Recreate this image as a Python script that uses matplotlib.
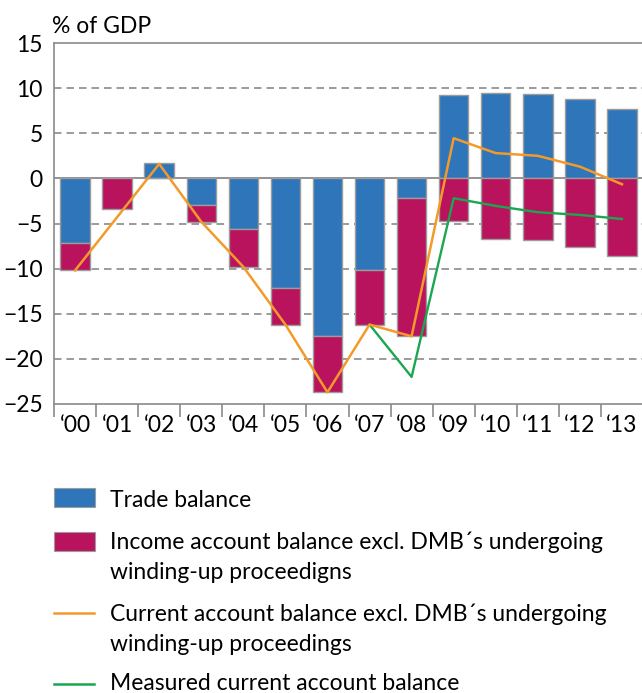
import matplotlib
matplotlib.use("Agg")
import matplotlib.pyplot as plt
import numpy as np
from matplotlib.patches import Rectangle
from matplotlib.lines import Line2D

plt.rcParams["font.family"] = ["Lato", "DejaVu Sans"]

# ---- data (% of GDP) ------------------------------------------------------
years = ["\u201800", "\u201801", "\u201802", "\u201803", "\u201804", "\u201805", "\u201806",
         "\u201807", "\u201808", "\u201809", "\u201810", "\u201811", "\u201812", "\u201813"]
trade = [-7.2, 0.0, 1.7, -3.0, -5.6, -12.2, -17.5, -10.2, -2.2, 9.2, 9.45, 9.3, 8.85, 7.7]
income = [-3.0, -3.4, 0.0, -1.8, -4.2, -4.0, -6.2, -6.05, -15.3, -4.7, -6.7, -6.8, -7.6, -8.6]
current_excl = [-10.2, -4.3, 1.6, -4.8, -9.8, -16.2, -23.7, -16.2, -17.5, 4.45, 2.8, 2.5, 1.3, -0.65]
measured = [np.nan] * 7 + [-16.2, -22.0, -2.2, -3.05, -3.75, -4.05, -4.5]

BLUE = "#2e75b9"
MAGENTA = "#b9135d"
ORANGE = "#f39a2a"
GREEN = "#1ba650"
GREY = "#8a8a8a"
EDGE = "#9c9c9c"
FS = 16.5

W, H = 642, 693
fig = plt.figure(figsize=(W / 100, H / 100), dpi=100)
ax = fig.add_axes([54 / W, 1 - 404 / H, 589 / W, 361 / H])

x = np.arange(len(years))
trade = np.array(trade)
income = np.array(income)
bw = 0.70

ax.axhline(0, color=GREY, lw=1.3, zorder=1)
ax.bar(x, trade, bw, color=BLUE, edgecolor=EDGE, lw=1.0, zorder=2)
ax.bar(x, income, bw, bottom=np.minimum(trade, 0), color=MAGENTA,
       edgecolor=EDGE, lw=1.0, zorder=2)
ax.plot(x, measured, color=GREEN, lw=1.7, zorder=3)
ax.plot(x, current_excl, color=ORANGE, lw=1.8, zorder=4)

ax.set_xlim(-0.5, len(years) - 0.5)
ax.set_ylim(-25, 15)
ax.set_yticks(np.arange(-25, 16, 5))
for v in (10, 5, -5, -10, -15, -20):
    ax.axhline(v, color=GREY, lw=1.2, ls=(0, (4.5, 3)), zorder=0)

ax.set_xticks(x)
ax.set_xticklabels(years)
ax.set_xticks(np.arange(-0.5, len(years), 1), minor=True)
ax.tick_params(axis="x", which="major", length=0, pad=8, labelsize=FS)
ax.tick_params(axis="x", which="minor", length=9, width=1.2, color=GREY)
ax.tick_params(axis="y", length=0, pad=8, labelsize=FS)

for side in ("left", "bottom", "top"):
    ax.spines[side].set_color(GREY)
    ax.spines[side].set_linewidth(1.2)
ax.spines["right"].set_visible(False)

fig.text(52 / W, 1 - 33 / H, "% of GDP", fontsize=FS, va="baseline", ha="left")


# ---- legend, placed in figure pixels ---------------------------------------
def fy(py):
    return 1 - py / H


def patch(top, color):
    fig.add_artist(Rectangle((54 / W, fy(top + 19)), 41 / W, 19 / H,
                             transform=fig.transFigure, facecolor=color,
                             edgecolor=EDGE, lw=0.8))


def handle(py, color):
    fig.add_artist(Line2D([54 / W, 94 / W], [fy(py), fy(py)],
                          transform=fig.transFigure, color=color, lw=1.8))


def label(py, s):
    fig.text(110 / W, fy(py), s, fontsize=FS, va="baseline", ha="left")


patch(488, BLUE)
label(507, "Trade balance")
patch(532, MAGENTA)
label(549, "Income account balance excl. DMB\u00b4s undergoing")
label(579, "winding-up proceedigns")
handle(613, ORANGE)
label(621, "Current account balance excl. DMB\u00b4s undergoing")
label(651, "winding-up proceedings")
handle(684, GREEN)
label(690, "Measured current account balance")

fig.savefig("out.png", dpi=100)
